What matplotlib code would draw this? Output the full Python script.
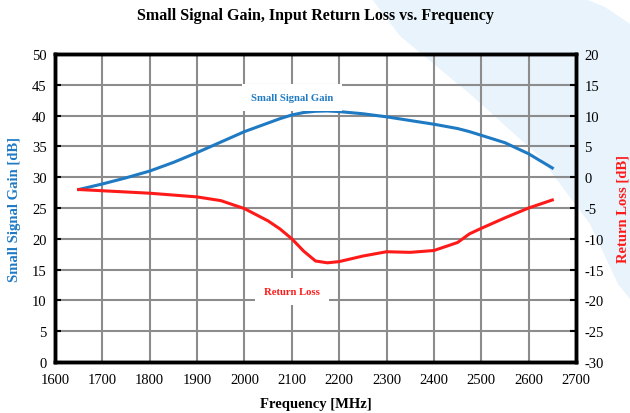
import numpy as np
import matplotlib.pyplot as plt
from matplotlib.patches import Polygon

plt.rcParams['font.family'] = ['Liberation Serif', 'DejaVu Serif']
plt.rcParams['axes.unicode_minus'] = False

# frequency points [MHz]
freq = [1650, 1700, 1750, 1800, 1850, 1900, 1950, 2000, 2050, 2075, 2100,
        2125, 2150, 2175, 2200, 2250, 2300, 2350, 2400, 2450, 2475, 2500,
        2550, 2600, 2650]

# small signal gain [dB] (left axis)
gain = [28.0, 28.9, 29.9, 31.0, 32.4, 34.0, 35.7, 37.4, 38.8, 39.5, 40.1,
        40.5, 40.7, 40.75, 40.65, 40.3, 39.8, 39.2, 38.6, 37.9, 37.4, 36.8,
        35.6, 33.8, 31.5]

# input return loss [dB] (right axis)
rloss = [-2.0, -2.2, -2.4, -2.6, -2.9, -3.2, -3.8, -5.1, -7.1, -8.4, -10.0,
         -12.0, -13.6, -13.9, -13.7, -12.8, -12.1, -12.2, -11.9, -10.6, -9.2,
         -8.3, -6.6, -5.0, -3.7]

fig = plt.figure(figsize=(6.3, 4.14), dpi=100)

# faint blue background shape in the upper right
W, H = 630.0, 414.0
bg = fig.add_axes([0, 0, 1, 1], zorder=-1)
bg.set_xlim(0, W)
bg.set_ylim(H, 0)
bg.axis('off')
pts = [(372, 0), (400, 37), (470, 95), (540, 158), (590, 225), (618, 285),
       (630, 300), (630, 25), (605, 8), (585, 0)]
bg.add_patch(Polygon(pts, closed=True, facecolor='#e8f3fb', edgecolor='none'))

ax = fig.add_axes([55 / W, 1 - 363 / H, (576 - 55) / W, (363 - 55) / H])
ax.set_facecolor('none')
ax2 = ax.twinx()
ax2.set_facecolor('none')

ax.set_xlim(1600, 2700)
ax.set_ylim(0, 50)
ax2.set_ylim(-30, 20)
ax.set_xticks(np.arange(1600, 2701, 100))
ax.set_yticks(np.arange(0, 51, 5))
ax2.set_yticks(np.arange(-30, 21, 5))

ax.grid(True, color='#8c8c8c', linewidth=1.5)
ax.set_axisbelow(True)

ax.plot(freq, gain, color='#1f7ac4', linewidth=2.2, zorder=3)
ax2.plot(freq, rloss, color='#ff1a1a', linewidth=2.2, zorder=3)

for a in (ax, ax2):
    for s in a.spines.values():
        s.set_linewidth(2.5)
        s.set_color('black')
    a.tick_params(direction='in', length=4, width=1.5, labelsize=10.5, pad=6)
ax.tick_params(axis='x', length=0, pad=8)

ax.set_title('Small Signal Gain, Input Return Loss vs. Frequency',
             fontsize=11.5, fontweight='bold', pad=25)
ax.set_xlabel('Frequency [MHz]', fontsize=10.5, fontweight='bold', labelpad=8)
ax.set_ylabel('Small Signal Gain [dB]', fontsize=10.5, fontweight='bold',
              color='#1f7ac4', labelpad=8)
ax2.set_ylabel('Return Loss [dB]', fontsize=10.5, fontweight='bold',
               color='#ff1a1a', labelpad=9)

ax.text(2100, 43, 'Small Signal Gain', color='#1f7ac4', fontsize=7.7,
        fontweight='bold', ha='center', va='center', zorder=4,
        bbox=dict(facecolor='white', edgecolor='none', pad=6.5))
ax.text(2100, 11.4, 'Return Loss', color='#ff1a1a', fontsize=7.7,
        fontweight='bold', ha='center', va='center', zorder=4,
        bbox=dict(facecolor='white', edgecolor='none', pad=6.5))

fig.savefig('out.png', dpi=100)
